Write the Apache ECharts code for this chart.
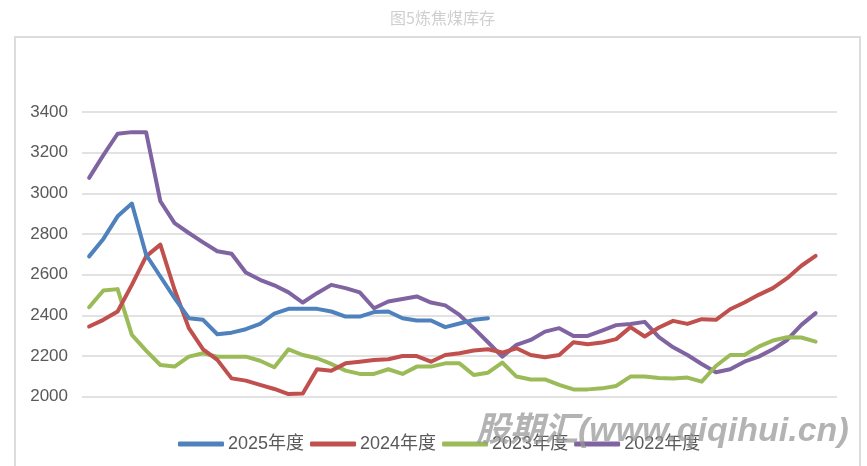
<!DOCTYPE html>
<html>
<head>
<meta charset="utf-8">
<script src="https://cdn.jsdelivr.net/npm/echarts@6/dist/echarts.min.js"></script>
<style>html,body{margin:0;padding:0;background:#fff;}#c{width:867px;height:466px;}</style>
</head>
<body>
<div id="c"></div>
<script>
const weeks = ['1','2','3','4','5','6','7','8','9','10','11','12','13','14','15','16','17','18','19','20','21','22','23','24','25','26','27','28','29','30','31','32','33','34','35','36','37','38','39','40','41','42','43','44','45','46','47','48','49','50','51','52','53'];
const seriesNames = ['2025年度','2024年度','2023年度','2022年度'];
const y2025 = [2690,2776,2887,2950,2698,2591,2485,2386,2378,2307,2315,2332,2358,2408,2432,2432,2432,2419,2394,2394,2416,2419,2386,2375,2375,2342,2360,2378,2386];
const y2024 = [2345,2378,2419,2550,2690,2748,2526,2337,2233,2181,2090,2079,2058,2038,2013,2016,2135,2128,2164,2172,2181,2184,2200,2200,2172,2205,2214,2227,2233,2217,2238,2205,2194,2205,2268,2258,2266,2283,2342,2296,2340,2373,2358,2381,2378,2430,2463,2501,2534,2583,2644,2693];
const y2023 = [2440,2522,2529,2304,2227,2156,2148,2197,2214,2197,2197,2197,2177,2145,2233,2205,2189,2161,2128,2112,2112,2135,2112,2148,2148,2164,2164,2107,2118,2168,2099,2085,2085,2058,2036,2036,2041,2053,2099,2099,2092,2090,2094,2074,2151,2205,2205,2246,2276,2292,2291,2271];
const y2022 = [3076,3188,3293,3301,3301,2961,2854,2805,2759,2715,2703,2611,2575,2548,2513,2463,2509,2550,2534,2513,2435,2468,2480,2493,2463,2449,2402,2337,2268,2197,2255,2279,2320,2337,2299,2299,2325,2352,2358,2368,2293,2243,2205,2161,2120,2135,2172,2197,2233,2279,2353,2411];
const yTicks = {min:2000, max:3400, step:200};
const titleText = '图5炼焦煤库存';
const watermark = '股期汇(www.qiqihui.cn)';

const colors = ['#4F81BD','#C0504D','#9BBB59','#8064A2'];
const datas = [y2025, y2024, y2023, y2022];

const chart = echarts.init(document.getElementById('c'), null, {renderer:'canvas'});
chart.setOption({
  animation: false,
  backgroundColor: '#fff',
  title: {
    text: titleText, left: 385, top: 5,
    textStyle: {color:'#cfcfcf', fontSize:16, fontWeight:'normal', fontFamily:'"Noto Sans CJK SC", sans-serif'}
  },
  graphic: [
    {type:'rect', shape:{x:15, y:37, width:845, height:460}, style:{fill:'none', stroke:'#dcdcdc', lineWidth:2}, silent:true, z:-1},
    {type:'text', left:476, top:415, z:100, silent:true,
     style:{text: watermark, fill:'rgba(150,150,150,0.72)', font:'italic bold 34px "Liberation Sans", "Noto Sans CJK SC", sans-serif'}}
  ],
  legend: {
    data: seriesNames,
    left: 173, top: 430,
    icon: 'roundRect', itemWidth: 46, itemHeight: 5, itemGap: 6,
    textStyle: {color:'#595959', fontSize:18, fontFamily:'"Liberation Sans", "Noto Sans CJK SC", sans-serif', padding:[0,0,0,-1]}
  },
  grid: {left:82, right:30, top:112, bottom:69.3, containLabel:false},
  xAxis: {
    type:'category', data: weeks, boundaryGap:true,
    axisLine:{show:false}, axisTick:{show:false}, axisLabel:{show:false}, splitLine:{show:false}
  },
  yAxis: {
    type:'value', min:yTicks.min, max:yTicks.max, interval:yTicks.step,
    axisLine:{show:false}, axisTick:{show:false},
    axisLabel:{color:'#595959', fontSize:17, margin:14, fontFamily:'"Liberation Sans", sans-serif', formatter: v => String(v)},
    splitLine:{lineStyle:{color:'#d9d9d9', width:1.5}}
  },
  series: seriesNames.map((n,i)=>({
    name:n, type:'line', data:datas[i], showSymbol:false, symbol:'none',
    color: colors[i],
    lineStyle:{width:4, color:colors[i], cap:'round', join:'round'},
    z: 10 - i
  }))
});
</script>
</body>
</html>
